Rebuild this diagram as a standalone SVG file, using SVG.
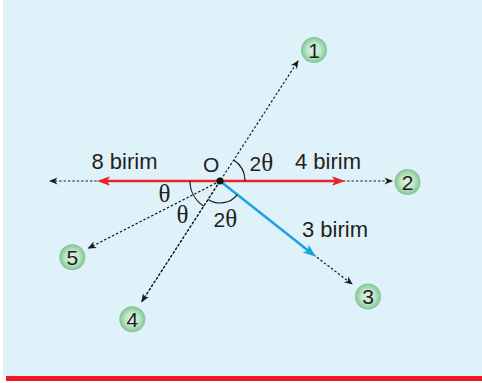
<svg xmlns="http://www.w3.org/2000/svg" width="482" height="383" viewBox="0 0 482 383">
  <defs>
    <radialGradient id="gBall" cx="50%" cy="50%" r="50%">
      <stop offset="0" stop-color="#e6f6ea"/>
      <stop offset="0.55" stop-color="#bde5c7"/>
      <stop offset="1" stop-color="#7ec592"/>
    </radialGradient>
    <marker id="mBlack" viewBox="-9 -5 10 10" refX="-1" refY="0" markerWidth="10" markerHeight="10" markerUnits="userSpaceOnUse" orient="auto">
      <path d="M0,0 L-8.5,-3.6 L-6,0 L-8.5,3.6 Z" fill="#1a1a1a"/>
    </marker>
    <marker id="mRed" viewBox="-14 -6 15 12" refX="-4" refY="0" markerWidth="15" markerHeight="12" markerUnits="userSpaceOnUse" orient="auto">
      <path d="M0,0 L-13,-4.8 L-10,0 L-13,4.8 Z" fill="#e8232b"/>
    </marker>
    <marker id="mBlue" viewBox="-14 -6 15 12" refX="-4" refY="0" markerWidth="15" markerHeight="12" markerUnits="userSpaceOnUse" orient="auto">
      <path d="M0,0 L-13,-4.8 L-10,0 L-13,4.8 Z" fill="#1aa3e0"/>
    </marker>
  </defs>
  <style>
    .dot { fill: none; stroke: #1a1a1a; stroke-width: 1.2; stroke-dasharray: 2.4 2; }
    .arc { fill: none; stroke: #1a1a1a; stroke-width: 1.2; }
    .lbl { font-family: "Liberation Sans", Arial, sans-serif; font-size: 22px; fill: #231f20; }
    .th { font-family: "Liberation Serif", "Times New Roman", serif; font-size: 25px; fill: #231f20; }
    .ball { fill: url(#gBall); }
    .num { font-family: "Liberation Sans", Arial, sans-serif; font-size: 21px; fill: #231f20; text-anchor: middle; }
  </style>

  <rect x="3" y="0" width="479" height="376" fill="#dff2fa"/>
  <rect x="6" y="376" width="476" height="5" fill="#ed1c24"/>

  <g id="connectors">
    <line class="dot" x1="110" y1="181" x2="50" y2="181" marker-end="url(#mBlack)"/>
    <line class="dot" x1="334" y1="181" x2="392" y2="181" marker-end="url(#mBlack)"/>
    <line class="dot" x1="141.7" y1="301.7" x2="298" y2="61" marker-end="url(#mBlack)"/>
    <line class="dot" x1="220" y1="181" x2="141.9" y2="301.4" marker-end="url(#mBlack)"/>
    <line class="dot" x1="220" y1="181" x2="88.6" y2="248.1" marker-end="url(#mBlack)"/>
    <line class="dot" x1="310" y1="252" x2="352" y2="284" marker-end="url(#mBlack)"/>
    <line x1="220" y1="181" x2="101" y2="181" stroke="#e8232b" stroke-width="2.5" marker-end="url(#mRed)"/>
    <line x1="220" y1="181" x2="341" y2="181" stroke="#e8232b" stroke-width="2.5" marker-end="url(#mRed)"/>
    <line x1="220" y1="181" x2="312.8" y2="254.2" stroke="#1aa3e0" stroke-width="2.5" marker-end="url(#mBlue)"/>
    <path class="arc" d="M245,181 A25,25 0 0 0 233.75,160.12"/>
    <path class="arc" d="M190,181 A30,30 0 0 0 203.68,206.16"/>
    <path class="arc" d="M208.03,199.45 A22,22 0 0 0 237.36,194.51"/>
  </g>

  <g id="O">
    <circle cx="220" cy="181" r="3.6" fill="#111"/>
    <text class="lbl" x="203" y="171.5" style="font-size:21px">O</text>
  </g>

  <g id="labels">
    <text class="lbl" x="249.5" y="171" style="font-size:21px">2<tspan class="th">θ</tspan></text>
    <text class="lbl" x="213.5" y="226.5" style="font-size:21px">2<tspan class="th">θ</tspan></text>
    <text class="lbl" x="91.5" y="169">8 birim</text>
    <text class="lbl" x="295" y="169">4 birim</text>
    <text class="lbl" x="302" y="237">3 birim</text>
    <text class="th" x="158.5" y="202">θ</text>
    <text class="th" x="176.5" y="223">θ</text>
  </g>

  <g id="n1"><circle class="ball" cx="314" cy="50" r="13"/><text class="num" x="314" y="57.5">1</text></g>
  <g id="n2"><circle class="ball" cx="407.5" cy="182" r="13"/><text class="num" x="407.5" y="189.5">2</text></g>
  <g id="n3"><circle class="ball" cx="368" cy="296.5" r="13"/><text class="num" x="368" y="304">3</text></g>
  <g id="n4"><circle class="ball" cx="132.3" cy="319.3" r="13"/><text class="num" x="132.3" y="326.8">4</text></g>
  <g id="n5"><circle class="ball" cx="72.3" cy="257.3" r="13"/><text class="num" x="72.3" y="264.8">5</text></g>
</svg>
